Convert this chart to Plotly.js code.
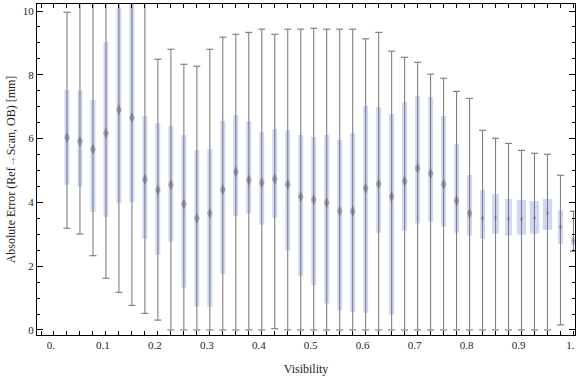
<!DOCTYPE html>
<html>
<head>
<meta charset="utf-8">
<script src="https://cdn.plot.ly/plotly-3.0.1.min.js"></script>
<style>html,body{margin:0;padding:0;background:#fff;}#chart{width:576px;height:377px;}</style>
</head>
<body>
<div id="chart"></div>
<script>
// ---- data ----
var visibility = [0.025,0.05,0.075,0.1,0.125,0.15,0.175,0.2,0.225,0.25,
                  0.275,0.3,0.325,0.35,0.375,0.4,0.425,0.45,0.475,0.5,
                  0.525,0.55,0.575,0.6,0.625,0.65,0.675,0.7,0.725,0.75,
                  0.775,0.8,0.825,0.85,0.875,0.9,0.925,0.95,0.975,1.0];
var whiskerLow = [3.19,3.01,2.33,1.62,1.18,0.77,0.52,0.31,0,0,
                  0,0,0,0,0,0,0.04,0,0,0,
                  0,0,0,0,0,0,0,0,0,0,
                  0,0,0,0,0,0,0,0,0.16,2.47];
var q1 = [4.55,4.49,3.70,3.55,3.97,4.00,2.85,2.35,2.77,1.33,
          0.73,0.73,1.76,3.58,3.65,3.30,3.52,2.49,1.70,1.40,
          0.83,0.61,0.57,0.54,3.05,0.48,3.11,3.34,3.40,3.24,
          3.05,2.96,2.86,3.02,2.96,2.99,3.02,3.14,2.71,2.66];
var median = [6.03,5.92,5.67,6.17,6.90,6.66,4.72,4.39,4.55,3.95,
              3.50,3.66,4.40,4.96,4.70,4.62,4.73,4.57,4.18,4.08,
              3.99,3.73,3.72,4.44,4.58,4.18,4.67,5.07,4.91,4.57,
              4.05,3.66,3.50,3.52,3.48,3.48,3.52,3.66,3.23,2.80];
var q3 = [7.52,7.52,7.21,9.02,10.10,10.60,6.71,6.48,6.40,6.11,
          5.64,5.67,6.55,6.74,6.55,6.21,6.30,6.27,6.11,6.05,
          6.11,5.96,6.18,7.02,6.99,6.77,7.15,7.34,7.30,6.71,
          5.83,4.86,4.39,4.26,4.11,4.08,4.04,4.11,3.76,2.92];
var whiskerHigh = [9.96,11.5,11.5,11.5,11.5,11.5,11.5,8.49,8.80,8.33,
                   8.27,8.80,9.18,9.27,9.33,9.43,9.27,9.43,9.43,9.46,
                   9.43,9.43,9.43,9.13,9.33,8.74,8.55,8.39,8.02,7.89,
                   7.48,7.26,6.26,6.01,5.85,5.63,5.54,5.51,4.85,3.72];
var xTickVals = [0,0.1,0.2,0.3,0.4,0.5,0.6,0.7,0.8,0.9,1.0];
var xTickText = ["0.","0.1","0.2","0.3","0.4","0.5","0.6","0.7","0.8","0.9","1."];
var yTickVals = [0,2,4,6,8,10];
var yTickText = ["0","2","4","6","8","10"];

// ---- style ----
var boxColor = "#d0d6f5";
var whiskerColor = "#808080";
var medianColor = "rgba(80,80,80,0.62)";
var serif = "Liberation Serif, Times New Roman, serif";
var narrowW = 0.0095, wideW = 0.018, midW = 0.013;
var boxWidths = visibility.map(function(v, i){
  if (i >= 35 && i <= 37) return wideW;
  if (i === 33 || i === 34) return midW;
  return narrowW;
});
var medianSizes = visibility.map(function(v, i){ return i >= 32 ? 4 : 8; });

// whisker lines
var wx = [], wy = [];
visibility.forEach(function(v, i){ wx.push(v, v, null); wy.push(whiskerLow[i], whiskerHigh[i], null); });

var traces = [
  {type:"scatter", mode:"lines", x:wx, y:wy, line:{color:whiskerColor, width:1.1},
   hoverinfo:"skip", showlegend:false, cliponaxis:true},
  {type:"scatter", mode:"markers", x:visibility.concat(visibility), y:whiskerLow.concat(whiskerHigh),
   marker:{symbol:"line-ew", size:5, line:{color:whiskerColor, width:1.2}},
   hoverinfo:"skip", showlegend:false, cliponaxis:true},
  {type:"bar", x:visibility, base:q1, y:q3.map(function(v,i){return v - q1[i];}),
   width:boxWidths, marker:{color:boxColor, line:{width:0}}, showlegend:false, hoverinfo:"skip"},
  {type:"scatter", mode:"markers", x:visibility, y:median,
   marker:{symbol:"diamond-tall", size:medianSizes, color:medianColor, line:{width:0}},
   showlegend:false, hoverinfo:"skip", cliponaxis:true}
];

var layout = {
  width:576, height:377,
  margin:{l:37, r:1, t:4, b:42},
  paper_bgcolor:"#fff", plot_bgcolor:"#fff",
  font:{family:serif, size:11, color:"#222"},
  showlegend:false,
  barmode:"overlay",
  xaxis:{
    range:[-0.0327, 1.003], tickmode:"array", tickvals:xTickVals, ticktext:xTickText,
    ticks:"inside", ticklen:4, tickcolor:"#000", tickwidth:1,
    minor:{ticks:"inside", dtick:0.025, tick0:0, ticklen:4, tickcolor:"#000"},
    showline:true, linecolor:"#000", linewidth:1, mirror:"allticks",
    showgrid:false, zeroline:false, ticklabeloverflow:"allow", ticklabelshift:-3,
    tickfont:{family:serif, size:11, color:"#222"},
    title:{text:"Visibility", font:{family:serif, size:12, color:"#222"}, standoff:14}
  },
  yaxis:{
    range:[-0.157, 10.22], tickmode:"array", tickvals:yTickVals, ticktext:yTickText,
    ticks:"inside", ticklen:6, tickcolor:"#000", tickwidth:1,
    minor:{ticks:"inside", dtick:0.5, tick0:0, ticklen:3, tickcolor:"#000"},
    showline:true, linecolor:"#000", linewidth:1, mirror:"allticks",
    showgrid:false, zeroline:false,
    tickfont:{family:serif, size:11, color:"#222"},
    title:{text:"Absolute Error (Ref<span style=\"color:#3a7bd5\">\u2192</span>Scan, OB) [mm]",
           font:{family:serif, size:12, color:"#222"}, standoff:4}
  }
};

Plotly.newPlot("chart", traces, layout, {staticPlot:true, displayModeBar:false});
</script>
</body>
</html>
